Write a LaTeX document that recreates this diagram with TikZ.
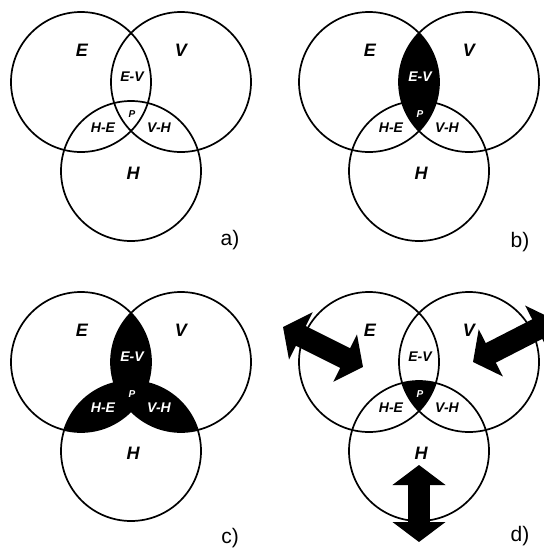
\documentclass[tikz,border=0pt]{standalone}
\usepackage{fontspec}
\setmainfont{Liberation Sans}
\usetikzlibrary{arrows.meta}

% the three sets of one panel
\newcommand\setE{(81,82) circle[radius=70pt]}
\newcommand\setV{(181,82) circle[radius=70pt]}
\newcommand\setH{(131,171) circle[radius=70pt]}

\begin{document}
\begin{tikzpicture}[x=1pt,y=-1pt,
  ring/.style={line width=1.7pt},
  big/.style={font=\fontsize{18}{18}\selectfont\bfseries\itshape},
  mid/.style={font=\fontsize{14}{14}\selectfont\bfseries\itshape},
  tiny/.style={font=\fontsize{10}{10}\selectfont\bfseries\itshape},
  tag/.style={font=\fontsize{21}{21}\selectfont},
  dbl/.style={line width=22pt,{Triangle[width=52pt,length=20pt]}-{Triangle[width=52pt,length=20pt]}}]
\path[use as bounding box] (0,0) rectangle (544,555);
\clip (0,0) rectangle (544,555);

% b) E-V filled
\begin{scope}[shift={(288,0)}]
\clip \setE; \fill \setV;
\end{scope}
% c) all pairs filled
\begin{scope}[shift={(0,280)}]
\begin{scope}\clip \setE; \fill \setV; \end{scope}
\begin{scope}\clip \setV; \fill \setH; \end{scope}
\begin{scope}\clip \setH; \fill \setE; \end{scope}
\end{scope}
% d) only P filled
\begin{scope}[shift={(288,280)}]
\clip \setE; \clip \setV; \fill \setH;
\end{scope}

\foreach \dx/\dy/\t/\tx/\ty/\cEV/\cHE/\cVH/\cP in {0/0/a/230/240/black/black/black/black,
    288/0/b/520/242/white/black/black/white,
    0/280/c/230/538/white/white/white/white,
    288/280/d/520/536/black/black/black/white}{
  \begin{scope}[shift={(\dx,\dy)}]
  \draw[ring] \setE; \draw[ring] \setV; \draw[ring] \setH;
  \node[big] (e\t) at (82,50) {E};
  \node[big] (v\t) at (181,50) {V};
  \node[big] (h\t) at (133,173) {H};
  \node[mid,text=\cEV] (ev\t) at (132,77) {E-V};
  \node[mid,text=\cHE] (he\t) at (103,128) {H-E};
  \node[mid,text=\cVH] (vh\t) at (159,128) {V-H};
  \node[tiny,text=\cP] (p\t) at (132,114) {P};
  \end{scope}
  \node[tag] (tag\t) at (\tx,\ty) {\t)};
}

% d) arrows
\coordinate (ea1) at (283,327);
\coordinate (ea2) at (363,367);
\coordinate (va1) at (473,362);
\coordinate (va2) at (555,320);
\coordinate (ha1) at (419,465);
\coordinate (ha2) at (419,542);
\draw[dbl] (ea1) -- (ea2);
\draw[dbl] (va1) -- (va2);
\draw[dbl] (ha1) -- (ha2);
\end{tikzpicture}
\end{document}
